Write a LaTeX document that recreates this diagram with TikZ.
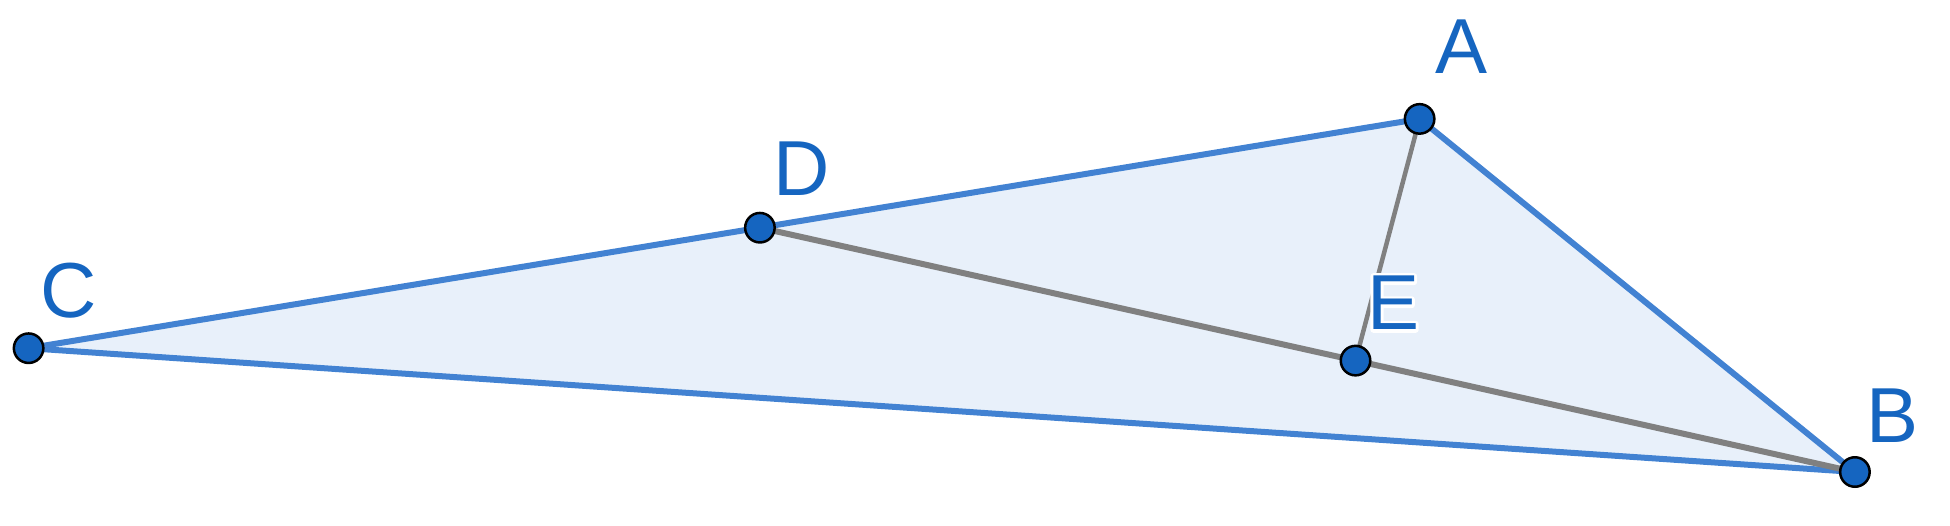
\documentclass[tikz,border=0pt]{standalone}
\usepackage{fontspec}
\setmainfont{Liberation Sans}
\definecolor{ptblue}{HTML}{1565C0}
\definecolor{sideblue}{HTML}{4282D2}
\definecolor{fillblue}{HTML}{E8F0FA}
\definecolor{midgray}{HTML}{808080}
% white outline behind a letter
\newcommand{\haloed}[1]{\rlap{\special{pdf:literal direct 1 j 6 w 1 1 1 RG 1 Tr}#1\special{pdf:literal direct 0 Tr}}#1}
\tikzset{
    pt/.style={circle, fill=ptblue, draw=black, line width=2.5pt, minimum size=29.5pt, inner sep=0pt},
    lbl/.style={text=ptblue, font=\fontsize{78}{80}\selectfont, inner sep=0pt},
    sideline/.style={sideblue, line width=6pt},
    cevian/.style={midgray, line width=6pt},
}
\begin{document}
\begin{tikzpicture}[x=1pt, y=-1pt]
    \useasboundingbox (0,0) rectangle (1950,525);

    % Triangle ABC with D on CA and E on DB
    \coordinate (A) at (1419.6,118.9);
    \coordinate (B) at (1854.9,472.0);
    \coordinate (C) at (28.6,348.2);
    \coordinate (D) at (759.9,227.7);
    \coordinate (E) at (1355.5,360.6);

    \fill[fillblue] (A) -- (B) -- (C) -- cycle;
    \draw[sideline] (C) -- (A);
    \draw[sideline] (A) -- (B);
    \draw[sideline] (B) -- (C);
    \draw[cevian] (D) -- (B);
    \draw[cevian, line width=4.5pt] (A) -- (E);

    % Points
    \foreach \p in {A,B,C,D,E}
        \node[pt] (pt\p) at (\p) {};

    % Labels
    \node[lbl] (labA) at (1461,47) {A};
    \node[lbl] (labB) at (1892,416) {B};
    \node[lbl] (labC) at (69,291) {C};
    \node[lbl] (labD) at (802,169) {D};
    \node[lbl] (labE) at (1393,303) {\haloed{E}};

\end{tikzpicture}
\end{document}
